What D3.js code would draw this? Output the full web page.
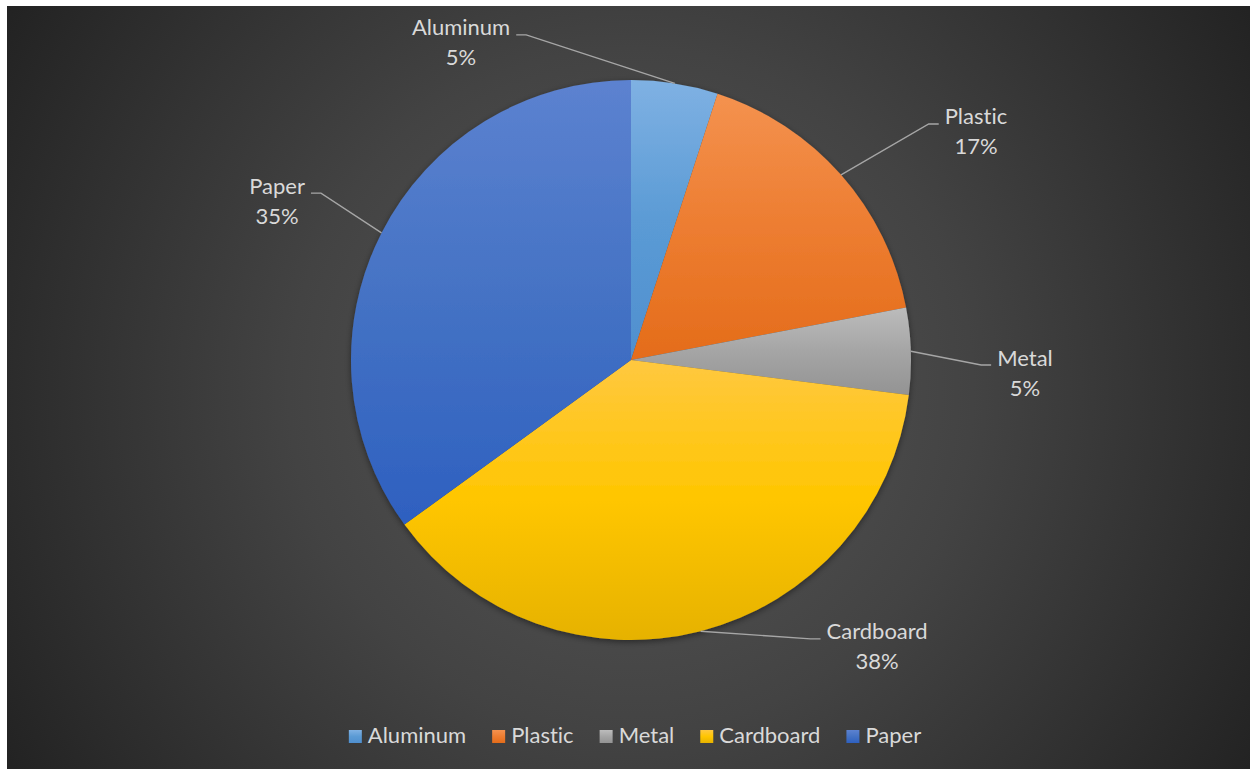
<!DOCTYPE html>
<html>
<head>
<meta charset="utf-8">
<script src="https://cdn.jsdelivr.net/npm/d3@7"></script>
<style>
  html, body { margin: 0; padding: 0; background: #ffffff; }
  svg { display: block; }
  text { font-family: Lato, "Noto Sans", sans-serif; fill: #d9d9d9; font-variant-ligatures: none; font-feature-settings: "liga" 0, "clig" 0; }
</style>
</head>
<body>
<svg id="chart" width="1250" height="769"></svg>
<script>
// Share of recycled material by category (percent)
const categories = ["Aluminum", "Plastic", "Metal", "Cardboard", "Paper"];
const shares = [5, 17, 5, 38, 35];

// Slice fills: light tint at the top, base colour in the middle, shade at the bottom
const fillTop = ["#7fb1e3", "#f4924f", "#bcbcbc", "#ffc840", "#5c82d0"];
const fillMid = ["#5b9bd5", "#ed7d31", "#a5a5a5", "#ffc600", "#4472c4"];
const fillBottom = ["#4f8fcf", "#e46c1a", "#939393", "#e6b200", "#2e60c0"];

const W = 1250, H = 769;
const svg = d3.select("#chart");
const defs = svg.append("defs");

// Background panel with a soft radial glow in the middle
const bg = defs.append("radialGradient").attr("id", "bg")
  .attr("gradientUnits", "userSpaceOnUse")
  .attr("cx", 631).attr("cy", 390).attr("r", 760);
bg.append("stop").attr("offset", "0%").attr("stop-color", "#585858");
bg.append("stop").attr("offset", "45%").attr("stop-color", "#434343");
bg.append("stop").attr("offset", "100%").attr("stop-color", "#202020");
svg.append("rect").attr("x", 7).attr("y", 6).attr("width", W - 7).attr("height", H - 6)
  .attr("fill", "url(#bg)");

categories.forEach((c, i) => {
  const g = defs.append("linearGradient").attr("id", "g" + i)
    .attr("x1", 0).attr("y1", 0).attr("x2", 0).attr("y2", 1);
  g.append("stop").attr("offset", "0%").attr("stop-color", fillTop[i]);
  g.append("stop").attr("offset", "50%").attr("stop-color", fillMid[i]);
  g.append("stop").attr("offset", "100%").attr("stop-color", fillBottom[i]);
});

const shadow = defs.append("filter").attr("id", "shadow")
  .attr("x", "-10%").attr("y", "-10%").attr("width", "120%").attr("height", "120%");
shadow.append("feDropShadow").attr("dx", 0).attr("dy", 2).attr("stdDeviation", 3)
  .attr("flood-color", "#000").attr("flood-opacity", 0.45);

const cx = 631, cy = 360, R = 280;
const pie = d3.pie().sort(null).value(d => d.v);
const data = categories.map((c, i) => ({ c, v: shares[i], i }));
const arcs = pie(data);
const arc = d3.arc().innerRadius(0).outerRadius(R);
const total = d3.sum(shares);

const gPie = svg.append("g").attr("transform", `translate(${cx},${cy})`);
gPie.append("g").attr("filter", "url(#shadow)")
  .selectAll("path").data(arcs).join("path")
  .attr("d", arc)
  .attr("fill", d => `url(#g${d.index})`);

// Data labels sit outside the pie, each joined to its slice by a leader line
const labelOffset = [[-0.607, -1.136], [1.232, -0.818], [1.407, 0.043], [0.879, 1.021], [-1.264, -0.571]];
const fmt = v => Math.round(v / total * 100) + "%";
const gLab = gPie.append("g");

arcs.forEach((d, k) => {
  const mid = (d.startAngle + d.endAngle) / 2;
  const px = R * Math.sin(mid), py = -R * Math.cos(mid);
  const lx = labelOffset[k][0] * R, ly = labelOffset[k][1] * R;

  const t = gLab.append("text").attr("text-anchor", "middle").style("font-size", "22px");
  t.append("tspan").attr("x", lx).attr("y", ly - 15).attr("dominant-baseline", "central").text(d.data.c);
  t.append("tspan").attr("x", lx).attr("y", ly + 15).attr("dominant-baseline", "central").text(fmt(d.data.v));
  const bb = t.node().getBBox();

  const side = lx < px ? 1 : -1; // label to the left of the anchor => leader leaves from its right edge
  const ex = side > 0 ? bb.x + bb.width + 6 : bb.x - 6;
  const ey = ly - 7;
  const elbowX = ex + side * 10;
  gLab.insert("path", "text")
    .attr("d", `M${px},${py}L${elbowX},${ey}L${ex},${ey}`)
    .attr("fill", "none").attr("stroke", "#a6a6a6").attr("stroke-width", 1.4);
});

// Legend centred under the pie
const legend = svg.append("g");
const itemGap = 26;
let x = 0;
categories.forEach((c, i) => {
  const g = legend.append("g");
  g.append("rect").attr("x", 0).attr("y", -13).attr("width", 13).attr("height", 13)
    .attr("fill", `url(#g${i})`);
  const t = g.append("text").attr("x", 19).attr("y", 0).style("font-size", "22px").text(c);
  const w = 19 + t.node().getComputedTextLength();
  g.attr("transform", `translate(${x},0)`);
  x += w + itemGap;
});
const legendWidth = x - itemGap;
legend.attr("transform", `translate(${635 - legendWidth / 2},743)`);
</script>
</body>
</html>
